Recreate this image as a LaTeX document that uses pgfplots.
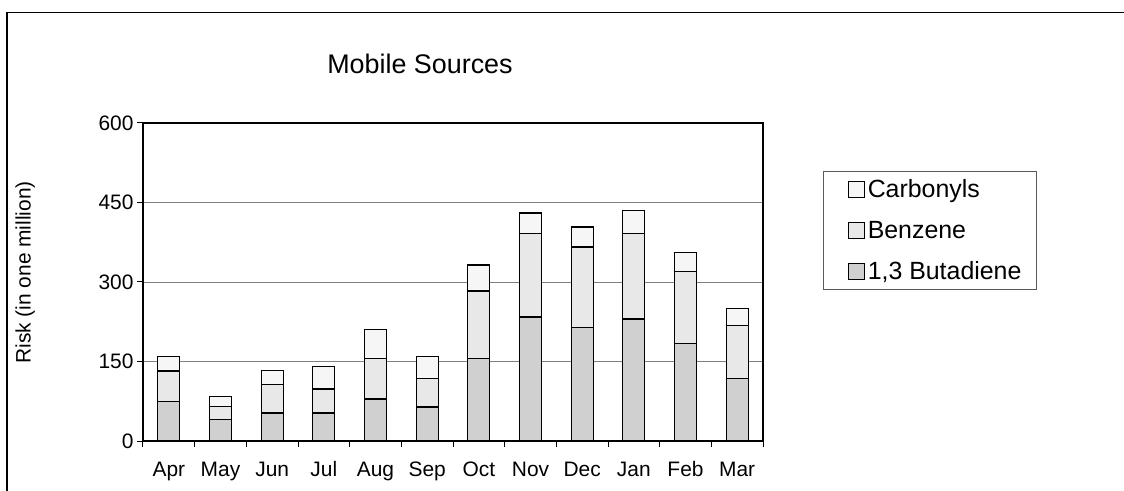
\documentclass[border=0pt]{standalone}
\usepackage{fontspec}
\setmainfont{Liberation Sans}
\usepackage{pgfplots}
\pgfplotsset{compat=1.18}

\definecolor{butad}{HTML}{D0D0D0}
\definecolor{benz}{HTML}{E8E8E8}
\definecolor{carb}{HTML}{F6F6F6}

\begin{document}
\begin{tikzpicture}
\useasboundingbox (-143bp,-50bp) rectangle (981bp,441bp);
% outer chart frame (only top and left edges show)
\draw[line width=1.3bp] (-136bp,-52bp) -- (-136bp,428.5bp) -- (983bp,428.5bp);

\begin{axis}[
    at={(0,0)}, anchor=south west,
    scale only axis,
    width=620bp, height=318bp,
    ybar stacked, bar width=22bp,
    xmin=0.5, xmax=12.5,
    ymin=0, ymax=600,
    ytick={0,150,300,450,600},
    xtick={1,...,12},
    xticklabels={Apr,May,Jun,Jul,Aug,Sep,Oct,Nov,Dec,Jan,Feb,Mar},
    minor xtick={0.5,1.5,...,12.5},
    major x tick style={draw=none},
    tick align=outside,
    major tick length=6bp, minor tick length=6bp,
    tick style={black, line width=1bp},
    xtick pos=bottom, ytick pos=left,
    ymajorgrids, grid style={gray, line width=0.8bp},
    axis line style={line width=1.3bp},
    tick label style={font=\fontsize{21}{24}\selectfont},
    xticklabel style={anchor=base, yshift=-29bp},
    /pgf/number format/assume math mode=true,
    ylabel={Risk (in one million)},
    every axis y label/.style={at={(axis description cs:-0.19,0.53)}, rotate=90,
        anchor=center, font=\fontsize{21}{24}\selectfont},
    reverse legend,
    legend cell align=left,
    legend image code/.code={\path (0bp,0bp) (28bp,0bp); \draw[#1, line width=0.9bp] (11bp,-8bp) rectangle (27bp,8bp);},
    legend style={at={(axis description cs:1.0968,0.849)}, anchor=north west,
        draw=gray!70!black, line width=0.9bp,
        font=\fontsize{25}{28}\selectfont,
        inner xsep=13bp, inner ysep=6bp, row sep=18bp},
]
    % 1,3 Butadiene
    \addplot[fill=butad, draw=black, line width=1.3bp] coordinates {
        (1,75)(2,41)(3,53)(4,53)(5,79)(6,64)(7,155)(8,234)(9,214)(10,230)(11,184)(12,118)
    };
    \addlegendentry{1,3 Butadiene}
    % Benzene
    \addplot[fill=benz, draw=black, line width=1.3bp] coordinates {
        (1,57)(2,24)(3,53)(4,45)(5,76)(6,54)(7,128)(8,158)(9,152)(10,162)(11,136)(12,100)
    };
    \addlegendentry{Benzene}
    % Carbonyls
    \addplot[fill=carb, draw=black, line width=1.3bp] coordinates {
        (1,27)(2,19)(3,27)(4,42)(5,56)(6,41)(7,49)(8,38)(9,38)(10,43)(11,35)(12,32)
    };
    \addlegendentry{Carbonyls}
\end{axis}

\node[font=\fontsize{27}{30}\selectfont, anchor=base] at (277bp,367bp) {Mobile Sources};
\end{tikzpicture}
\end{document}
